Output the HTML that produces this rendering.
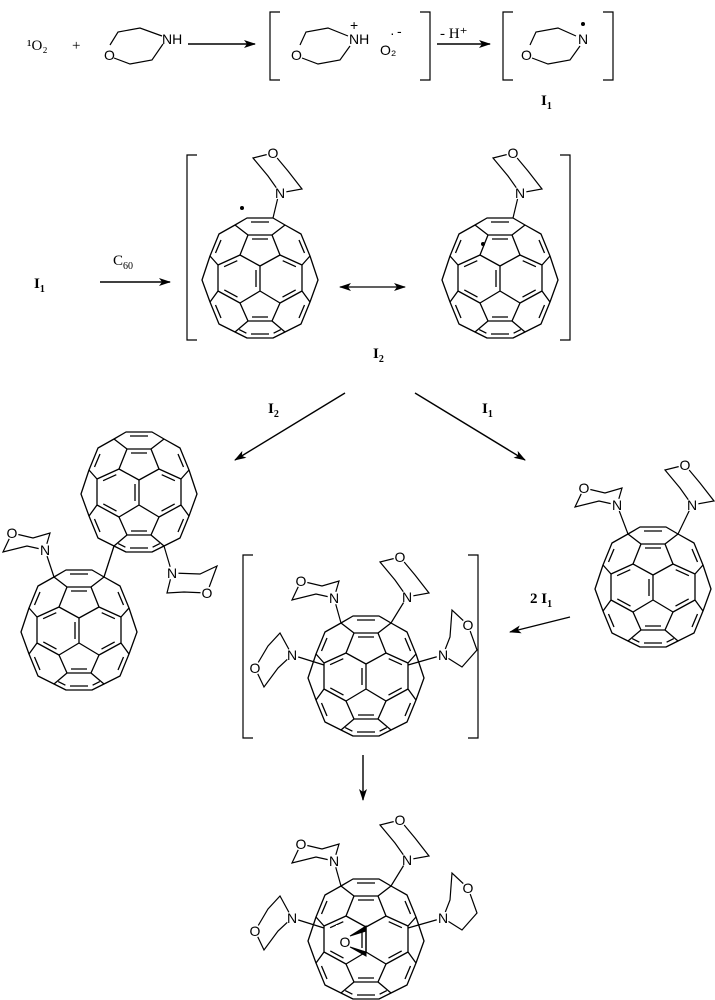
<!DOCTYPE html>
<html><head><meta charset="utf-8"><style>
body{margin:0;background:#fff}
svg{display:block}
text{font-family:"Liberation Serif",serif;font-size:15px;fill:#000}
.s{font-family:"Liberation Sans",sans-serif;font-size:14px}
.a{font-family:"Liberation Sans",sans-serif;font-size:14px;text-anchor:middle;dominant-baseline:central}
.w{fill:#fff}
</style></head><body>
<svg width="715" height="1000" viewBox="0 0 715 1000" xmlns="http://www.w3.org/2000/svg">
<defs>
<marker id="ah" markerWidth="12" markerHeight="8" refX="11" refY="4" orient="auto" markerUnits="userSpaceOnUse"><path d="M0,0 L12,4 L0,8 L3,4 Z" fill="#000"/></marker>
<marker id="ah2" markerWidth="12" markerHeight="8" refX="1" refY="4" orient="auto" markerUnits="userSpaceOnUse"><path d="M12,0 L0,4 L12,8 L9,4 Z" fill="#000"/></marker>
<g id="f" fill="none" stroke="#000" stroke-width="1.3" stroke-linejoin="round">
<path d="M-13,-60 L13,-60 L25,-53 L41,-44 L50,-22 L58,2 L50,24 L41,46 L25,54 L13,60 L-13,60 L-25,54 L-41,46 L-50,24 L-58,2 L-50,-22 L-41,-44 L-25,-53 Z"/>
<path d="M-25,-53 L-12,-43 L12,-43 L25,-53 M-12,-43 L-20,-23 L0,-12 L20,-23 L12,-43 M-20,-23 L-42,-13 L-50,-22 M20,-23 L42,-13 L50,-22 M-42,-13 L-42,13 L-50,24 M42,-13 L42,13 L50,24 M-42,13 L-20,25 L0,13 L20,25 L42,13 M0,-12 L0,13 M-20,25 L-12,43 L12,43 L20,25 M-12,43 L-25,54 M12,43 L25,54"/>
<path d="M-9,-56 L9,-56 M-9,56 L9,56 M-8,-39 L8,-39 M-8,39 L8,39 M-4,-8 L-4,9 M-39,-38 L-44.5,-25 M39,-38 L44.5,-25 M-44.5,27 L-39,40 M44.5,27 L39,40 M-22.7,-17.3 L-35.9,-11.3 M22.7,-17.3 L35.9,-11.3 M-35.7,11.9 L-22.5,19.1 M35.7,11.9 L22.5,19.1 M-20.8,51.6 L-13.6,55.2 M20.8,51.6 L13.6,55.2"/>
</g>
<path id="mh" d="M-33,-17 L-12,-12 L5,-17 L0,0 L-18,-4 L-42,2 Z" fill="none" stroke="#000" stroke-width="1.2"/>
<path id="mv" d="M-7,-40 L-27,-35 L-12,-17 L0,0 L22,-4 L8,-22 Z" fill="none" stroke="#000" stroke-width="1.2"/>
<path id="ml" d="M0,0 L-12,-22 L-24,-9 L-37,13 L-28,32 L-14,13 Z" fill="none" stroke="#000" stroke-width="1.2"/>
<path id="mr" d="M0,0 L7,-18 L9,-45 L25,-30 L34,-5 L19,12 Z" fill="none" stroke="#000" stroke-width="1.2"/>
</defs>

<!-- Row 1 -->
<text x="27" y="50">¹O₂</text>
<text x="72" y="50">+</text>
<g fill="none" stroke="#000" stroke-width="1.2">
<path d="M110,45 L118,32 L140,28 L162,36 M114,58 L130,64 L152,60 L163,44"/>
</g>
<text x="104" y="60" class="s">O</text>
<text x="162" y="44" class="s">NH</text>
<line x1="188" y1="44" x2="255" y2="44" stroke="#000" stroke-width="1.4" marker-end="url(#ah)"/>
<path d="M280,12 L270,12 L270,80 L280,80 M420,12 L430,12 L430,80 L420,80" fill="none" stroke="#000" stroke-width="1.2"/>
<g fill="none" stroke="#000" stroke-width="1.2">
<path d="M300,45 L306,32 L328,28 L348,36 M302,58 L318,64 L340,60 L350,46"/>
</g>
<text x="291" y="60" class="s">O</text>
<text x="349" y="44" class="s">NH</text>
<text x="350" y="30" class="s">+</text>
<text x="380" y="55" class="s">O₂</text>
<text x="390" y="38" class="s">·</text><text x="397" y="36" class="s">-</text>
<text x="440" y="38">- H⁺</text>
<line x1="437" y1="44" x2="490" y2="44" stroke="#000" stroke-width="1.4" marker-end="url(#ah)"/>
<path d="M513,12 L503,12 L503,80 L513,80 M603,12 L613,12 L613,80 L603,80" fill="none" stroke="#000" stroke-width="1.2"/>
<g fill="none" stroke="#000" stroke-width="1.2">
<path d="M530,45 L536,32 L558,28 L576,36 M532,58 L548,64 L570,60 L580,46"/>
</g>
<text x="521" y="60" class="s">O</text>
<text x="578" y="44" class="s">N</text>
<circle cx="583" cy="24" r="2"/>
<text x="541" y="105" font-weight="bold">I<tspan font-size="10" dy="4">1</tspan></text>

<!-- Row 2 -->
<path d="M197,155 L187,155 L187,340 L197,340 M560,155 L570,155 L570,340 L560,340" fill="none" stroke="#000" stroke-width="1.2"/>
<use href="#f" transform="translate(260,278)"/>
<line x1="279" y1="193" x2="273" y2="218" stroke="#000" stroke-width="1.2"/>
<use href="#mv" transform="translate(280,193)"/>
<circle cx="242" cy="208" r="2"/>
<use href="#f" transform="translate(500,278)"/>
<line x1="519" y1="193" x2="513" y2="218" stroke="#000" stroke-width="1.2"/>
<use href="#mv" transform="translate(520,193)"/>
<circle cx="483" cy="244" r="2"/>
<text x="34" y="288" font-weight="bold">I<tspan font-size="10" dy="4">1</tspan></text>
<text x="113" y="265">C<tspan font-size="10" dy="4">60</tspan></text>
<line x1="100" y1="282" x2="170" y2="282" stroke="#000" stroke-width="1.4" marker-end="url(#ah)"/>
<line x1="340" y1="287" x2="405" y2="287" stroke="#000" stroke-width="1.2" marker-end="url(#ah)" marker-start="url(#ah2)"/>
<text x="373" y="358" font-weight="bold">I<tspan font-size="10" dy="4">2</tspan></text>

<!-- branching arrows -->
<line x1="345" y1="393" x2="235" y2="460" stroke="#000" stroke-width="1.4" marker-end="url(#ah)"/>
<text x="268" y="413" font-weight="bold">I<tspan font-size="10" dy="4">2</tspan></text>
<line x1="415" y1="393" x2="525" y2="460" stroke="#000" stroke-width="1.4" marker-end="url(#ah)"/>
<text x="482" y="413" font-weight="bold">I<tspan font-size="10" dy="4">1</tspan></text>

<!-- left dimer -->
<use href="#f" transform="translate(139,492)"/>
<use href="#f" transform="translate(79,630)"/>
<line x1="104" y1="577" x2="114" y2="546" stroke="#000" stroke-width="1.3"/>
<line x1="45" y1="550" x2="54" y2="577" stroke="#000" stroke-width="1.2"/>
<use href="#mh" transform="translate(45,550)"/>
<line x1="164" y1="546" x2="172" y2="573" stroke="#000" stroke-width="1.2"/>
<path d="M172,573 L200,574 L217,566 L207,593 L184,592 L167,593 Z" fill="none" stroke="#000" stroke-width="1.2"/>

<!-- right mono adduct -->
<use href="#f" transform="translate(653,587)"/>
<line x1="617" y1="505" x2="628" y2="534" stroke="#000" stroke-width="1.2"/>
<use href="#mh" transform="translate(617,505)"/>
<line x1="692" y1="505" x2="678" y2="534" stroke="#000" stroke-width="1.2"/>
<use href="#mv" transform="translate(692,505)"/>

<!-- 2 I1 arrow -->
<line x1="570" y1="617" x2="510" y2="632" stroke="#000" stroke-width="1.4" marker-end="url(#ah)"/>
<text x="530" y="603" font-weight="bold">2 I<tspan font-size="10" dy="4">1</tspan></text>

<!-- middle bracket -->
<path d="M253,555 L243,555 L243,738 L253,738 M468,555 L478,555 L478,738 L468,738" fill="none" stroke="#000" stroke-width="1.2"/>
<use href="#f" transform="translate(366,676)"/>
<g stroke="#000" stroke-width="1.2"><line x1="334" y1="598" x2="341" y2="623"/><line x1="407" y1="597" x2="391" y2="623"/><line x1="292" y1="655" x2="324" y2="665"/><line x1="443" y1="655" x2="408" y2="665"/></g>
<use href="#mh" transform="translate(334,598)"/>
<use href="#mv" transform="translate(407,597)"/>
<use href="#ml" transform="translate(292,655)"/>
<use href="#mr" transform="translate(443,655)"/>

<!-- down arrow -->
<line x1="363" y1="755" x2="363" y2="800" stroke="#000" stroke-width="1.4" marker-end="url(#ah)"/>

<!-- bottom product -->
<use href="#f" transform="translate(366,939)"/>
<g stroke="#000" stroke-width="1.2"><line x1="334" y1="861" x2="341" y2="886"/><line x1="407" y1="860" x2="391" y2="886"/><line x1="292" y1="918" x2="324" y2="928"/><line x1="443" y1="918" x2="408" y2="928"/></g>
<use href="#mh" transform="translate(334,861)"/>
<use href="#mv" transform="translate(407,860)"/>
<use href="#ml" transform="translate(292,918)"/>
<use href="#mr" transform="translate(443,918)"/>
<rect x="336" y="925" width="24" height="28" fill="#fff"/>
<line x1="366" y1="927" x2="366" y2="952" stroke="#000" stroke-width="1.3"/>
<path d="M350,936 L366,926 L366,931 Z M350,947 L366,952 L366,956 Z" fill="#000" stroke="#000" stroke-width="1"/>

<!-- atom label backgrounds -->
<g class="w">
<circle cx="273" cy="153" r="6.5"/><circle cx="280" cy="193" r="6.5"/>
<circle cx="513" cy="153" r="6.5"/><circle cx="520" cy="193" r="6.5"/>
<circle cx="12" cy="533" r="6.5"/><circle cx="45" cy="550" r="6.5"/>
<circle cx="172" cy="573" r="6.5"/><circle cx="207" cy="593" r="6.5"/>
<circle cx="584" cy="488" r="6.5"/><circle cx="617" cy="505" r="6.5"/>
<circle cx="685" cy="465" r="6.5"/><circle cx="692" cy="505" r="6.5"/>
<circle cx="301" cy="581" r="6.5"/><circle cx="334" cy="598" r="6.5"/>
<circle cx="400" cy="557" r="6.5"/><circle cx="407" cy="597" r="6.5"/>
<circle cx="255" cy="668" r="6.5"/><circle cx="292" cy="655" r="6.5"/>
<circle cx="468" cy="625" r="6.5"/><circle cx="443" cy="655" r="6.5"/>
<circle cx="301" cy="844" r="6.5"/><circle cx="334" cy="861" r="6.5"/>
<circle cx="400" cy="820" r="6.5"/><circle cx="407" cy="860" r="6.5"/>
<circle cx="255" cy="931" r="6.5"/><circle cx="292" cy="918" r="6.5"/>
<circle cx="468" cy="888" r="6.5"/><circle cx="443" cy="918" r="6.5"/>
<circle cx="345" cy="942" r="6.5"/>
</g>
<text x="273" y="153" class="a">O</text><text x="280" y="193" class="a">N</text>
<text x="513" y="153" class="a">O</text><text x="520" y="193" class="a">N</text>
<text x="12" y="533" class="a">O</text><text x="45" y="550" class="a">N</text>
<text x="172" y="573" class="a">N</text><text x="207" y="593" class="a">O</text>
<text x="584" y="488" class="a">O</text><text x="617" y="505" class="a">N</text>
<text x="685" y="465" class="a">O</text><text x="692" y="505" class="a">N</text>
<text x="301" y="581" class="a">O</text><text x="334" y="598" class="a">N</text>
<text x="400" y="557" class="a">O</text><text x="407" y="597" class="a">N</text>
<text x="255" y="668" class="a">O</text><text x="292" y="655" class="a">N</text>
<text x="468" y="625" class="a">O</text><text x="443" y="655" class="a">N</text>
<text x="301" y="844" class="a">O</text><text x="334" y="861" class="a">N</text>
<text x="400" y="820" class="a">O</text><text x="407" y="860" class="a">N</text>
<text x="255" y="931" class="a">O</text><text x="292" y="918" class="a">N</text>
<text x="468" y="888" class="a">O</text><text x="443" y="918" class="a">N</text>
<text x="345" y="942" class="a">O</text>
</svg>
</body></html>
